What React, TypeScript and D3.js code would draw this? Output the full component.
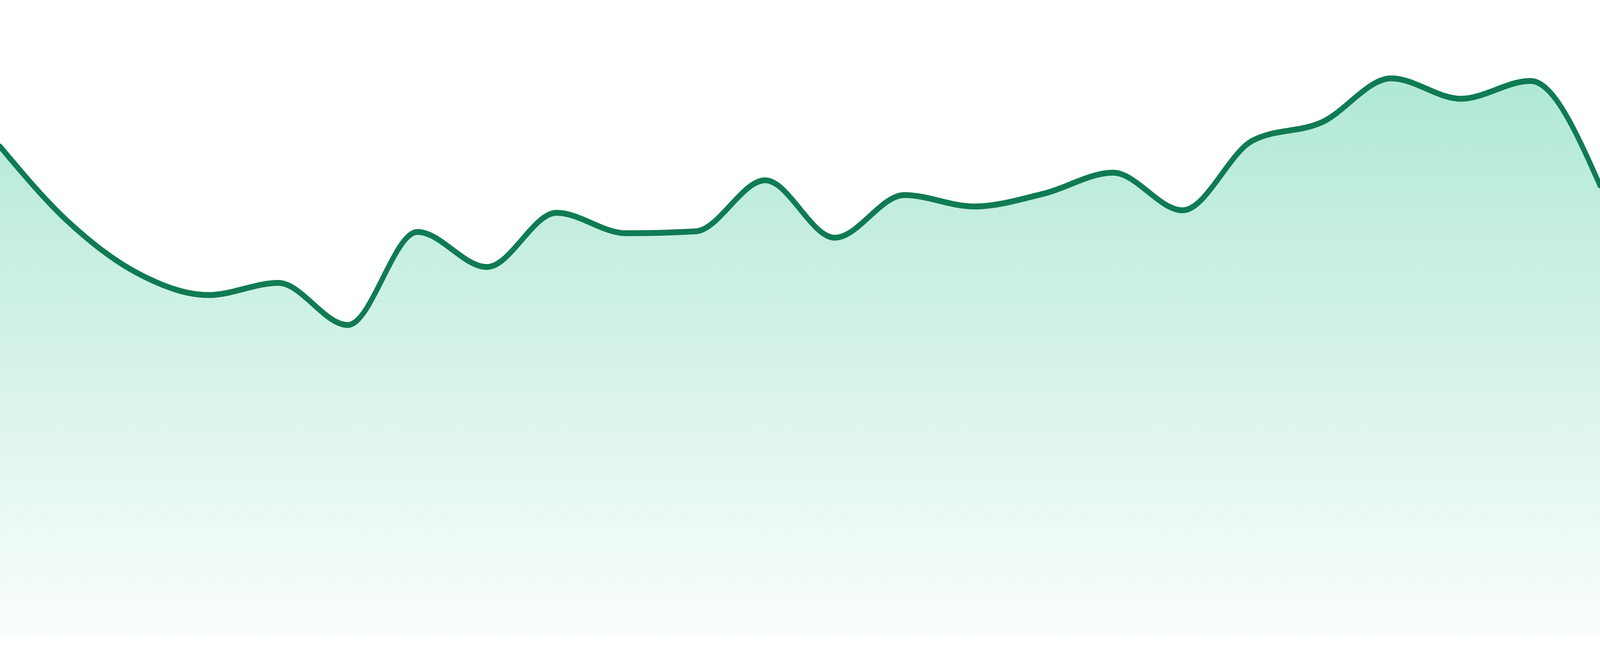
import React, { useEffect, useRef } from 'react';
import * as d3 from 'd3';

// one reading per step, left to right (no axis labels shown in the chart)
const steps = d3.range(24);
const values = [
  77.0, 65.0, 57.0, 53.7, 55.6, 49.0, 63.6, 58.1, 66.6, 63.4, 63.7, 71.7,
  62.7, 69.4, 67.6, 69.6, 72.9, 67.0, 77.9, 80.8, 87.7, 84.5, 87.3, 70.9,
];
const yDomain = [0, 100];

const App: React.FC = () => {
  const svgRef = useRef<SVGSVGElement>(null);

  useEffect(() => {
    if (!svgRef.current) return;

    d3.select(svgRef.current).selectAll('*').remove();

    const width = 4800;
    const height = 1680;
    const bottom = 1632;

    // draw in a fixed 4800x1680 space, stretched over the whole viewport
    const svg = d3.select(svgRef.current)
      .attr('viewBox', `0 0 ${width} ${height}`)
      .attr('preserveAspectRatio', 'none');

    const x = d3.scaleLinear()
      .domain([0, steps.length - 1])
      .range([0, width]);

    const y = d3.scaleLinear()
      .domain(yDomain)
      .range([bottom, 0]);

    // Fill gradient
    const grad = svg.append('defs')
      .append('linearGradient')
      .attr('id', 'areaFill')
      .attr('x1', 0).attr('y1', 0)
      .attr('x2', 0).attr('y2', 1);
    grad.append('stop').attr('offset', '0%')
      .attr('stop-color', '#10b981').attr('stop-opacity', 0.33);
    grad.append('stop').attr('offset', '100%')
      .attr('stop-color', '#10b981').attr('stop-opacity', 0.02);

    const area = d3.area<number>()
      .x((_, i) => x(steps[i]))
      .y0(bottom)
      .y1(d => y(d))
      .curve(d3.curveMonotoneX);

    svg.append('path')
      .datum(values)
      .attr('fill', 'url(#areaFill)')
      .attr('d', area);

    const line = d3.line<number>()
      .x((_, i) => x(steps[i]))
      .y(d => y(d))
      .curve(d3.curveMonotoneX);

    svg.append('path')
      .datum(values)
      .attr('fill', 'none')
      .attr('stroke', '#107b53')
      .attr('stroke-width', 15)
      .attr('stroke-linecap', 'round')
      .attr('stroke-linejoin', 'round')
      .attr('d', line);
  }, []);

  return (
    <svg
      ref={svgRef}
      style={{
        position: 'fixed',
        left: 0,
        top: 0,
        width: '100vw',
        height: '100vh',
        display: 'block',
      }}
    />
  );
};

export default App;
